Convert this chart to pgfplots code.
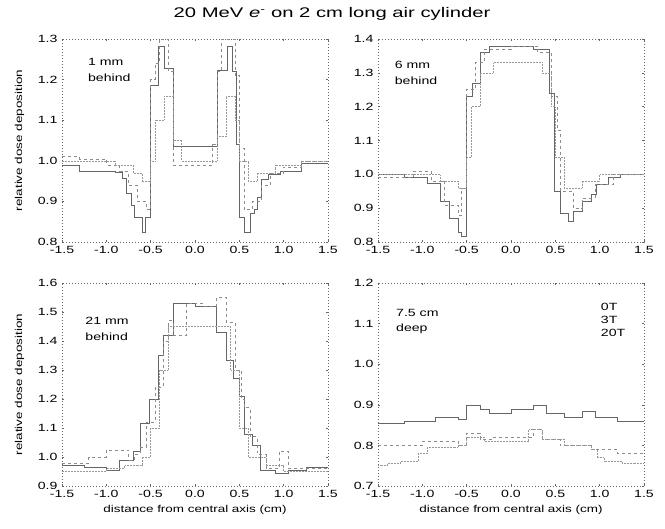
\documentclass[border=0pt]{standalone}
\usepackage{pgfplots}
\pgfplotsset{compat=1.18}
\usepackage{fontspec}
\setmainfont{Liberation Sans}[FakeStretch=1.35]
\newfontfamily\titlefont{Liberation Sans}[FakeStretch=1.45]

\pgfplotsset{
  panel/.style={
    scale only axis,
    width=266bp, height=203bp,
    xmin=-1.5, xmax=1.5,
    xtick={-1.5,-1,...,1.5},
    axis line style={black!60, line width=0.5bp, dash pattern=on 0.8bp off 2.2bp},
    tick style={black!60, line width=0.4bp},
    major tick length=2bp,
    tick align=inside,
    ticklabel style={font=\fontsize{10.5}{12}\selectfont},
    label style={font=\fontsize{10}{12}\selectfont},
    xticklabel style={/pgf/number format/.cd, fixed, fixed zerofill, precision=1, assume math mode=true},
    yticklabel style={/pgf/number format/.cd, fixed, fixed zerofill, precision=1, assume math mode=true},
    xticklabel shift=1bp,
    yticklabel shift=1bp,
    ylabel style={at={(axis description cs:-0.16,0.5)}, anchor=center},
    xlabel style={at={(axis description cs:0.5,-0.12)}, anchor=center},
  },
  t0/.style={const plot, black!60, line width=0.5bp},
  t3/.style={const plot, black!45, line width=0.5bp, dashed},
  t20/.style={const plot, black!40, line width=0.5bp, densely dotted},
}

\begin{document}
\begin{tikzpicture}
\path[use as bounding box] (-62bp,-43bp) rectangle (603bp,486bp);

\node[font=\titlefont\fontsize{14}{16}\selectfont] at (270bp,472bp)
  {20 MeV {\itshape e}\textsuperscript{-} on 2 cm long air cylinder};

% 1 mm behind
\begin{axis}[panel, at={(0bp,244bp)}, anchor=south west,
  ymin=0.8, ymax=1.3, ytick={0.8,0.9,...,1.3},
  ylabel={relative dose deposition}]
\addplot[t0] coordinates {
  (-1.5,0.99) (-1.3,0.975) (-0.9,0.973) (-0.82,0.958) (-0.77,0.92) (-0.72,0.89)
  (-0.68,0.86) (-0.6,0.825) (-0.56,0.862) (-0.5,1.187) (-0.41,1.281) (-0.35,1.228)
  (-0.25,1.035) (0.25,1.224) (0.36,1.281) (0.42,1.22) (0.47,1.04) (0.5,0.862)
  (0.56,0.825) (0.62,0.87) (0.67,0.88) (0.7,0.91) (0.75,0.955) (0.83,0.968)
  (0.96,0.975) (1.2,0.995) (1.5,0.995)
};
\addplot[t3] coordinates {
  (-1.5,1.01) (-1.3,1.005) (-1.0,0.99) (-0.85,0.975) (-0.75,0.94) (-0.65,0.9)
  (-0.55,0.88) (-0.5,1.2) (-0.45,1.24) (-0.4,1.3) (-0.3,1.22) (-0.25,0.99)
  (0.2,1.04) (0.25,1.22) (0.3,1.3) (0.45,1.21) (0.5,1.03) (0.55,0.88)
  (0.65,0.9) (0.75,0.94) (0.85,0.97) (1.0,0.985) (1.2,1.0) (1.5,1.0)
};
\addplot[t20] coordinates {
  (-1.5,1.0) (-1.2,1.0) (-0.9,0.99) (-0.7,0.97) (-0.6,0.95) (-0.5,1.0)
  (-0.45,1.1) (-0.35,1.16) (-0.25,1.05) (-0.15,1.0) (0.15,1.0) (0.25,1.06)
  (0.35,1.16) (0.45,1.1) (0.5,1.0) (0.6,0.95) (0.7,0.97) (0.9,0.99)
  (1.2,1.0) (1.5,1.0)
};
\node[anchor=north west, align=left, font=\fontsize{10.5}{16}\selectfont]
  at (rel axis cs:0.085,0.92) {1 mm\\behind};
\end{axis}

% 6 mm behind
\begin{axis}[panel, at={(316bp,244bp)}, anchor=south west,
  ymin=0.8, ymax=1.4, ytick={0.8,0.9,...,1.4}]
\addplot[t0] coordinates {
  (-1.5,1.0) (-1.2,0.99) (-0.95,0.975) (-0.8,0.92) (-0.7,0.87) (-0.6,0.83)
  (-0.556,0.818) (-0.5,1.23) (-0.44,1.27) (-0.35,1.36) (-0.25,1.38) (0.25,1.37)
  (0.43,1.24) (0.49,0.95) (0.55,0.885) (0.65,0.86) (0.7,0.89) (0.8,0.92)
  (0.9,0.94) (0.96,0.97) (1.1,0.99) (1.23,1.0) (1.5,1.0)
};
\addplot[t3] coordinates {
  (-1.5,0.99) (-1.1,1.01) (-0.9,0.98) (-0.75,0.91) (-0.6,0.88) (-0.556,0.96)
  (-0.5,1.25) (-0.4,1.33) (-0.3,1.37) (0.0,1.38) (0.3,1.36) (0.45,1.23)
  (0.52,1.13) (0.55,0.95) (0.7,0.9) (0.8,0.93) (0.95,0.97) (1.15,1.0) (1.5,1.0)
};
\addplot[t20] coordinates {
  (-1.5,1.0) (-1.0,1.0) (-0.8,0.98) (-0.6,0.96) (-0.5,1.05) (-0.45,1.2)
  (-0.35,1.3) (-0.2,1.33) (0.2,1.33) (0.35,1.3) (0.45,1.2) (0.5,1.05)
  (0.6,0.96) (0.8,0.98) (1.0,1.0) (1.5,1.0)
};
\node[anchor=north west, align=left, font=\fontsize{10.5}{16}\selectfont]
  at (rel axis cs:0.05,0.91) {6 mm\\behind};
\end{axis}

% 21 mm behind
\begin{axis}[panel, at={(0bp,0bp)}, anchor=south west,
  ymin=0.9, ymax=1.6, ytick={0.9,1.0,...,1.6},
  ylabel={relative dose deposition},
  xlabel={distance from central axis (cm)}]
\addplot[t0] coordinates {
  (-1.5,0.97) (-1.25,0.965) (-1.0,0.955) (-0.85,0.99) (-0.7,1.02) (-0.62,1.116)
  (-0.52,1.2) (-0.42,1.35) (-0.36,1.42) (-0.25,1.53) (0.0,1.52) (0.24,1.43)
  (0.35,1.335) (0.43,1.27) (0.5,1.21) (0.55,1.08) (0.65,1.04) (0.74,0.955)
  (0.9,0.945) (1.05,0.955) (1.25,0.965) (1.5,0.965)
};
\addplot[t3] coordinates {
  (-1.5,0.98) (-1.2,1.0) (-1.0,1.024) (-0.75,0.99) (-0.68,1.01) (-0.62,1.035)
  (-0.55,1.12) (-0.45,1.24) (-0.36,1.4) (-0.3,1.47) (-0.25,1.42) (-0.1,1.53)
  (0.1,1.52) (0.24,1.55) (0.35,1.466) (0.45,1.3) (0.52,1.2) (0.55,1.17)
  (0.62,1.07) (0.7,1.01) (0.8,0.96) (0.95,1.02) (1.05,0.96) (1.5,0.97)
};
\addplot[t20] coordinates {
  (-1.5,0.95) (-1.0,0.96) (-0.8,0.97) (-0.6,1.0) (-0.5,1.1) (-0.4,1.3)
  (-0.3,1.45) (0.3,1.45) (0.4,1.3) (0.5,1.1) (0.6,1.0) (0.8,0.97)
  (1.0,0.95) (1.5,0.95)
};
\node[anchor=north west, align=left, font=\fontsize{10.5}{16}\selectfont]
  at (rel axis cs:0.075,0.85) {21 mm\\behind};
\end{axis}

% 7.5 cm deep
\begin{axis}[panel, at={(316bp,0bp)}, anchor=south west,
  ymin=0.7, ymax=1.2, ytick={0.7,0.8,...,1.2},
  xlabel={distance from central axis (cm)}]
\addplot[t0] coordinates {
  (-1.5,0.855) (-1.2,0.86) (-0.85,0.87) (-0.6,0.865) (-0.5,0.9) (-0.35,0.89)
  (-0.25,0.88) (0.0,0.89) (0.25,0.9) (0.4,0.88) (0.6,0.87) (0.8,0.885)
  (0.95,0.87) (1.2,0.86) (1.5,0.86)
};
\addplot[t3] coordinates {
  (-1.5,0.8) (-1.0,0.81) (-0.6,0.8) (-0.5,0.83) (-0.35,0.815) (-0.2,0.82)
  (0.25,0.84) (0.35,0.815) (0.55,0.8) (0.9,0.79) (1.2,0.78) (1.5,0.78)
};
\addplot[t20] coordinates {
  (-1.5,0.75) (-1.4,0.756) (-1.25,0.76) (-1.05,0.78) (-0.95,0.795) (-0.6,0.8)
  (-0.5,0.82) (-0.3,0.81) (0.2,0.84) (0.35,0.815) (0.6,0.8) (0.9,0.79)
  (0.97,0.77) (1.05,0.76) (1.25,0.755) (1.5,0.755)
};
\node[anchor=north west, align=left, font=\fontsize{10.5}{16}\selectfont]
  at (rel axis cs:0.055,0.89) {7.5 cm\\deep};
\node[anchor=north west, align=left, font=\fontsize{10.5}{13.5}\selectfont]
  at (rel axis cs:0.825,0.92) {0T\\3T\\20T};
\end{axis}
\end{tikzpicture}
\end{document}
